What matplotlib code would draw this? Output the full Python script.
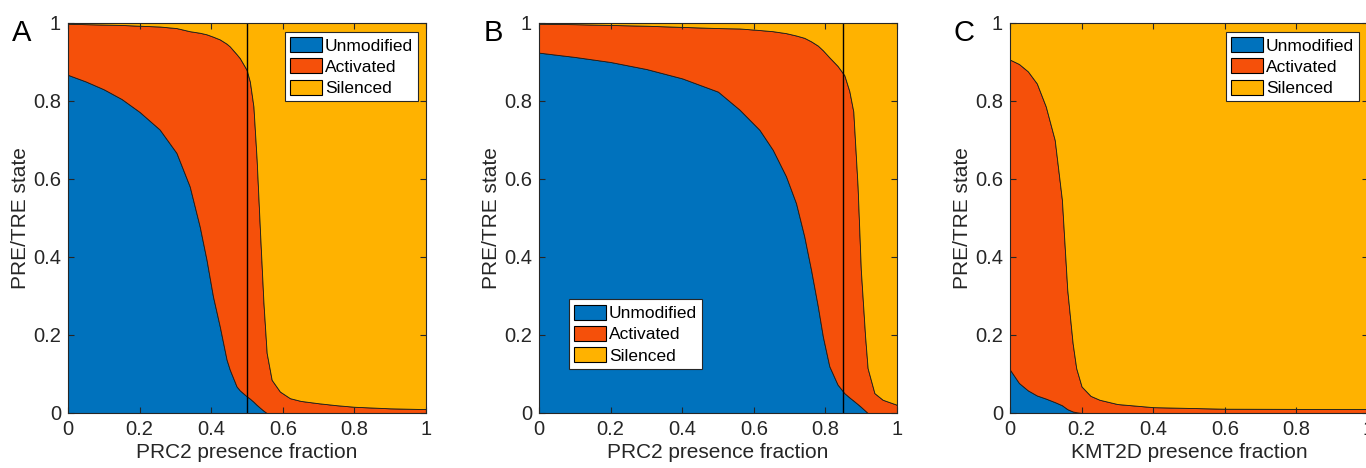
import matplotlib
matplotlib.use("Agg")
import matplotlib.pyplot as plt
from matplotlib.patches import Patch
import numpy as np

plt.rcParams['font.family'] = ['Liberation Sans', 'DejaVu Sans']

# panel A: PRC2 presence fraction
xa = [0, 0.05, 0.1, 0.15, 0.2, 0.256, 0.303, 0.34, 0.368, 0.387, 0.405, 0.424, 0.443, 0.452,
      0.471, 0.48, 0.499, 0.508, 0.518, 0.527, 0.537, 0.546, 0.555, 0.569, 0.592, 0.62,
      0.65, 0.7, 0.75, 0.8, 0.9, 1.0]
unmod_a = [0.867, 0.85, 0.83, 0.805, 0.772, 0.727, 0.667, 0.581, 0.478, 0.393, 0.299, 0.222, 0.137, 0.111,
           0.068, 0.058, 0.043, 0.037, 0.029, 0.021, 0.013, 0.006, 0, 0, 0, 0,
           0, 0, 0, 0, 0, 0]
act_a = [0.131, 0.147, 0.166, 0.19, 0.221, 0.264, 0.32, 0.398, 0.497, 0.578, 0.666, 0.736, 0.81, 0.829,
         0.852, 0.852, 0.837, 0.813, 0.757, 0.629, 0.44, 0.277, 0.154, 0.085, 0.055, 0.038,
         0.031, 0.025, 0.02, 0.016, 0.012, 0.01]

# panel B: PRC2 presence fraction
xb = [0, 0.1, 0.2, 0.3, 0.4, 0.5, 0.56, 0.616, 0.653, 0.69, 0.718, 0.741, 0.76, 0.779, 0.793,
      0.811, 0.834, 0.853, 0.867, 0.878, 0.89, 0.899, 0.911, 0.918, 0.937, 0.96, 1.0]
unmod_b = [0.924, 0.913, 0.90, 0.882, 0.858, 0.824, 0.778, 0.726, 0.675, 0.607, 0.538, 0.453, 0.367, 0.273, 0.196,
           0.12, 0.073, 0.051, 0.04, 0.032, 0.023, 0.016, 0.006, 0, 0, 0, 0]
act_b = [0.074, 0.084, 0.095, 0.111, 0.132, 0.163, 0.208, 0.256, 0.304, 0.367, 0.43, 0.509, 0.586, 0.669, 0.734,
         0.792, 0.817, 0.815, 0.785, 0.741, 0.558, 0.351, 0.19, 0.115, 0.051, 0.034, 0.021]

# panel C: KMT2D presence fraction
xc = [0, 0.025, 0.05, 0.075, 0.1, 0.125, 0.145, 0.16, 0.175, 0.185, 0.2, 0.225, 0.25, 0.3,
      0.4, 0.6, 0.8, 1.0]
unmod_c = [0.111, 0.077, 0.058, 0.045, 0.037, 0.028, 0.02, 0.01, 0.004, 0.002, 0, 0, 0, 0,
           0, 0, 0, 0]
act_c = [0.795, 0.818, 0.818, 0.80, 0.749, 0.672, 0.527, 0.306, 0.175, 0.113, 0.068, 0.044, 0.034, 0.023,
         0.015, 0.011, 0.0105, 0.01]

panels = [
    ("A", xa, unmod_a, act_a, "PRC2 presence fraction", 0.5, "upper right", (0.978, 0.977)),
    ("B", xb, unmod_b, act_b, "PRC2 presence fraction", 0.85, "lower left", (0.084, 0.113)),
    ("C", xc, unmod_c, act_c, "KMT2D presence fraction", None, "upper right", (0.975, 0.977)),
]
labels = ["Unmodified", "Activated", "Silenced"]
colors = ["#0072BD", "#F5500A", "#FFB200"]

fig = plt.figure(figsize=(13.66, 4.68), dpi=100)
lefts = [68, 539, 1010]

for (letter, x, u, a, xlabel, vline, legloc, anchor), left in zip(panels, lefts):
    ax = fig.add_axes([left / 1366, 55 / 468, 358 / 1366, 390 / 468])
    x = np.array(x)
    u = np.array(u)
    top = u + np.array(a)
    ax.fill_between(x, 0, u, facecolor=colors[0], edgecolor="#1a1a1a", lw=0.6)
    ax.fill_between(x, u, top, facecolor=colors[1], edgecolor="#1a1a1a", lw=0.6)
    ax.fill_between(x, top, 1, facecolor=colors[2], edgecolor="#1a1a1a", lw=0.6)
    if vline is not None:
        ax.axvline(vline, color="black", lw=1.0)
    ax.set_xlim(0, 1)
    ax.set_ylim(0, 1)
    ticks = [0, 0.2, 0.4, 0.6, 0.8, 1]
    ticklabels = ["0", "0.2", "0.4", "0.6", "0.8", "1"]
    ax.set_xticks(ticks)
    ax.set_xticklabels(ticklabels)
    ax.set_yticks(ticks)
    ax.set_yticklabels(ticklabels)
    ax.tick_params(direction="in", top=True, right=True, labelsize=14.5, length=4,
                   color="#262626", labelcolor="#262626", pad=5)
    for s in ax.spines.values():
        s.set_color("#262626")
        s.set_linewidth(0.8)
    ax.set_xlabel(xlabel, fontsize=15, color="#262626", labelpad=3)
    ax.set_ylabel("PRE/TRE state", fontsize=15, color="#262626", labelpad=2)
    handles = [Patch(facecolor=c, edgecolor="black", lw=0.8) for c in colors]
    leg = ax.legend(handles, labels, loc=legloc, bbox_to_anchor=anchor, fontsize=12.5,
                    fancybox=False, framealpha=1, edgecolor="#262626",
                    handlelength=1.85, handleheight=0.95, handletextpad=0.15,
                    labelspacing=0.28, borderpad=0.3, borderaxespad=0)
    leg.get_frame().set_linewidth(0.8)
    fig.text((left - 46) / 1366, 1 - 33 / 468, letter, fontsize=21, ha="center", va="center")

fig.savefig("out.png", dpi=100)
